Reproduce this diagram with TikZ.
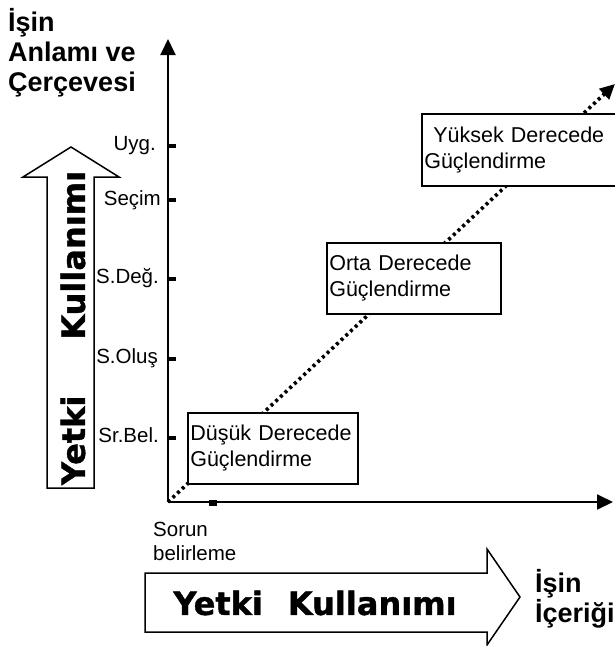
\documentclass[tikz,border=0pt]{standalone}
\usepackage{fontspec}
\setmainfont{Liberation Sans}
\newfontfamily\heavyfont{DejaVu Sans}[FakeBold=1.2]
\usetikzlibrary{arrows.meta,positioning}

\begin{document}
\begin{tikzpicture}[x=1pt,y=-1pt,
	lbl/.style={font=\fontsize{20.5}{24}\selectfont, inner sep=0pt},
	title/.style={font=\fontsize{27}{30}\selectfont\bfseries, align=left, inner sep=0pt},
	big/.style={font=\fontsize{32}{36}\selectfont\heavyfont\bfseries, inner sep=0pt},
	stage/.style={draw, line width=1.6pt, fill=white, align=left, anchor=north west,
		inner xsep=2.5pt, inner ysep=0pt, font=\fontsize{21.5}{26}\selectfont},
	tickmark/.style={fill=black, inner sep=0pt, minimum width=7pt, minimum height=4.5pt},
	axis/.style={line width=2pt, -{Triangle[length=16pt,width=15pt]}},
	blockarrow/.style={draw, line width=1.5pt, line join=miter}
]
	\useasboundingbox (0,0) rectangle (614,646);

	% axes
	\coordinate (O) at (168,502);
	\coordinate (ytop) at (168,39);
	\coordinate (xend) at (613,502);
	\coordinate (dend) at (615,84);
	\draw[axis] (O) -- (ytop);
	\draw[axis] (O) -- (xend);

	% diagonal
	\draw[line width=3.6pt, dash pattern=on 3pt off 3.4pt, -{Triangle[length=15pt,width=14pt]}] (O) -- (dend);

	% ticks and their labels
	\node[tickmark] (tUyg) at (172,146) {};
	\node[tickmark] (tSecim) at (172,200) {};
	\node[tickmark] (tSDeg) at (172,279) {};
	\node[tickmark] (tSOlus) at (172,359) {};
	\node[tickmark] (tSrBel) at (172,438) {};
	\node[tickmark, minimum width=8pt, minimum height=6pt] (tSorun) at (213,503) {};

	\node[lbl, anchor=base east] (uyg) at (156,150) {Uyg.};
	\node[lbl, anchor=base east] (secim) at (161,205) {Seçim};
	\node[lbl, anchor=base east] (sdeg) at (159,283) {S.Değ.};
	\node[lbl, anchor=base east] (solus) at (158,363) {S.Oluş};
	\node[lbl, anchor=base east] (srbel) at (159,442) {Sr.Bel.};
	\node[lbl, align=left, anchor=north west] (sorun) at (153,522) {Sorun\\belirleme};

	% stages
	\node[stage, text width=165pt, minimum height=71pt] (low) at (187,412) {Düşük Derecede\\Güçlendirme};
	\node[stage, text width=169pt, minimum height=71pt] (mid) at (326,242) {Orta Derecede\\Güçlendirme};
	\node[stage, text width=200pt, minimum height=72pt] (high) at (421,113) {\hspace{9pt}Yüksek Derecede\\Güçlendirme};

	% axis titles
	\node[title, anchor=north west] (ytitle) at (8,8) {İşin\\Anlamı ve\\Çerçevesi};
	\node[title, anchor=north west] (xtitle) at (535,569) {İşin\\İçeriği};

	% block arrows
	\draw[blockarrow] (47,488) -- (47,177) -- (23,177) -- (71,147) -- (119,177) -- (94,177) -- (94,488) -- cycle;
	\node[big, rotate=90] (vuse) at (73,328) {Yetki\hspace{56pt}Kullanımı};

	\draw[blockarrow] (145,573) -- (487,573) -- (487,549) -- (520,597) -- (487,645) -- (487,632) -- (145,632) -- cycle;
	\node[big] (huse) at (315,603) {Yetki\hspace{25pt}Kullanımı};

\end{tikzpicture}
\end{document}
